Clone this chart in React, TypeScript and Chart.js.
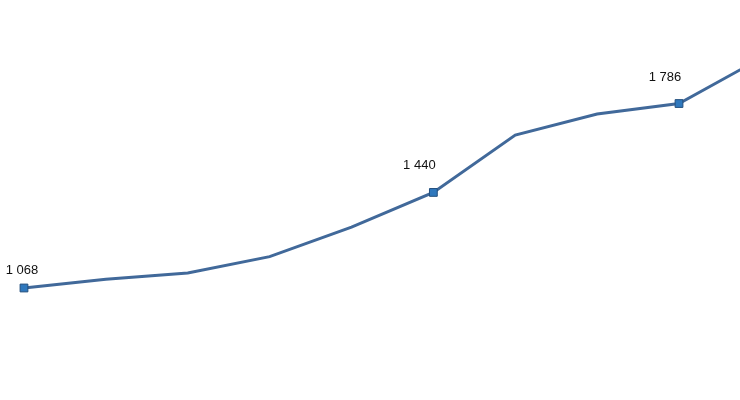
import { useEffect, useRef } from "react";
import { Chart, registerables } from "chart.js";

Chart.register(...registerables);

// The last point sits just past the right edge
const indices = [0, 1, 2, 3, 4, 5, 6, 7, 8, 9];
const values = [1068, 1102, 1126, 1190, 1305, 1440, 1663, 1745, 1786, 1962];
const labelled = [0, 5, 8];

const fmt = (v: number) => String(v).replace(/\B(?=(\d{3})+(?!\d))/g, " ");

const pointLabels = {
  id: "pointLabels",
  afterDatasetsDraw(chart: Chart) {
    const ctx = chart.ctx;
    const meta = chart.getDatasetMeta(0);
    ctx.save();
    ctx.font = '13px "Liberation Sans", Arial, sans-serif';
    ctx.fillStyle = "#111";
    ctx.textAlign = "center";
    ctx.textBaseline = "bottom";
    labelled.forEach((i) => {
      const pt = meta.data[i];
      const x = Math.max(pt.x - 14, 22);
      const dy = i === 0 ? 11 : 20;
      ctx.fillText(fmt(values[i]), x, pt.y - dy);
    });
    ctx.restore();
  },
};

export default function App() {
  const ref = useRef<HTMLCanvasElement>(null);

  useEffect(() => {
    const canvas = ref.current;
    if (!canvas) return;
    const chart = new Chart(canvas, {
      type: "line",
      data: {
        datasets: [
          {
            data: indices.map((i) => ({ x: i, y: values[i] })),
            borderColor: "#41699a",
            borderWidth: 3,
            tension: 0,
            pointStyle: "rect",
            pointRadius: indices.map((i) => (labelled.includes(i) ? 5.5 : 0)),
            pointBackgroundColor: "#2f78bd",
            pointBorderColor: "#24507e",
            pointBorderWidth: 1,
          },
        ],
      },
      options: {
        animation: false,
        responsive: true,
        maintainAspectRatio: false,
        layout: { padding: 0, autoPadding: false },
        plugins: { legend: { display: false }, tooltip: { enabled: false } },
        scales: {
          x: { type: "linear", min: -0.293, max: 8.745, display: false },
          y: { min: 632, max: 2189, display: false },
        },
      },
      plugins: [pointLabels],
    });
    return () => chart.destroy();
  }, []);

  return (
    <div style={{ position: "fixed", left: 0, top: 0, width: 740, height: 400, background: "#fff" }}>
      <canvas ref={ref} />
    </div>
  );
}
